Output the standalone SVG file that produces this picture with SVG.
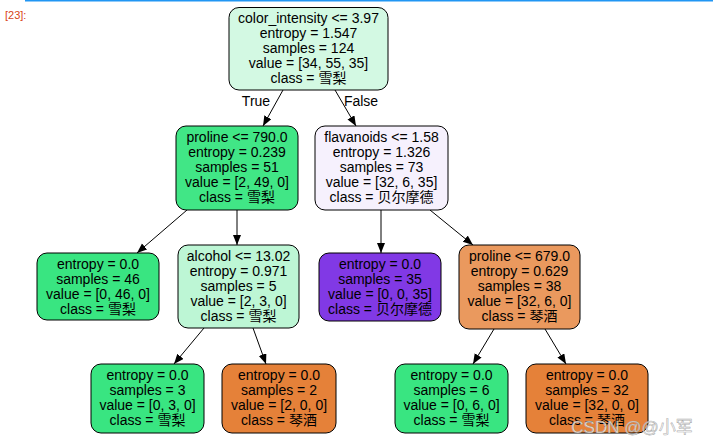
<svg xmlns="http://www.w3.org/2000/svg" width="713" height="445" viewBox="0 0 713 445">
<style>
  .n rect { stroke: #000; stroke-width: 1; }
  text { font-family: "Liberation Sans", Arial, "Noto Sans CJK SC", sans-serif; font-size: 14px; fill: #000; text-anchor: middle; }
  .e line { stroke: #000; stroke-width: 1; }
  .lbl { font-size: 14px; }
</style>
<defs>
  <marker id="ah" markerUnits="userSpaceOnUse" markerWidth="12" markerHeight="10" refX="10" refY="4" orient="auto">
    <polygon points="0,0 10,4 0,8" fill="#000"/>
  </marker>
</defs>
<rect x="0" y="0" width="713" height="445" fill="#fff"/>
<rect x="25" y="0" width="688" height="1.5" fill="#2196f3"/>
<text x="5" y="19" style="font-size:11px;text-anchor:start;fill:#d84315">[23]:</text>

<g class="e" id="edges">
  <line x1="283" y1="90" x2="263" y2="126" marker-end="url(#ah)"/>
  <line x1="335" y1="90" x2="356" y2="126" marker-end="url(#ah)"/>
  <line x1="187" y1="210" x2="137" y2="253" marker-end="url(#ah)"/>
  <line x1="237" y1="210" x2="237" y2="245" marker-end="url(#ah)"/>
  <line x1="381" y1="210" x2="381" y2="253" marker-end="url(#ah)"/>
  <line x1="430" y1="210" x2="473" y2="245" marker-end="url(#ah)"/>
  <line x1="204" y1="328" x2="174" y2="364" marker-end="url(#ah)"/>
  <line x1="253" y1="328" x2="266" y2="364" marker-end="url(#ah)"/>
  <line x1="494" y1="329" x2="473" y2="364" marker-end="url(#ah)"/>
  <line x1="545" y1="329" x2="566" y2="364" marker-end="url(#ah)"/>
  <text class="lbl" x="256" y="106">True</text>
  <text class="lbl" x="361" y="106">False</text>
</g>

<g class="n" id="node0">
  <rect x="229" y="7.5" width="159" height="82.5" rx="10" fill="#d3f9e3"/>
  <text x="308.5" y="23">color_intensity &lt;= 3.97</text>
  <text x="308.5" y="38">entropy = 1.547</text>
  <text x="308.5" y="53">samples = 124</text>
  <text x="308.5" y="68">value = [34, 55, 35]</text>
  <text x="308.5" y="83">class = 雪梨</text>
</g>

<g class="n" id="node1">
  <rect x="176" y="126" width="122" height="84" rx="10" fill="#41e686"/>
  <text x="237" y="142">proline &lt;= 790.0</text>
  <text x="237" y="157">entropy = 0.239</text>
  <text x="237" y="172">samples = 51</text>
  <text x="237" y="187">value = [2, 49, 0]</text>
  <text x="237" y="202">class = 雪梨</text>
</g>

<g class="n" id="node4">
  <rect x="315" y="126" width="133" height="84" rx="10" fill="#f6f1fd"/>
  <text x="381.5" y="142">flavanoids &lt;= 1.58</text>
  <text x="381.5" y="157">entropy = 1.326</text>
  <text x="381.5" y="172">samples = 73</text>
  <text x="381.5" y="187">value = [32, 6, 35]</text>
  <text x="381.5" y="202">class = 贝尔摩德</text>
</g>

<g class="n" id="node2">
  <rect x="37" y="253" width="122" height="67" rx="10" fill="#39e581"/>
  <text x="98" y="269">entropy = 0.0</text>
  <text x="98" y="284">samples = 46</text>
  <text x="98" y="299">value = [0, 46, 0]</text>
  <text x="98" y="314">class = 雪梨</text>
</g>

<g class="n" id="node3">
  <rect x="178" y="245" width="121" height="83" rx="10" fill="#bdf6d5"/>
  <text x="238.5" y="261">alcohol &lt;= 13.02</text>
  <text x="238.5" y="276">entropy = 0.971</text>
  <text x="238.5" y="291">samples = 5</text>
  <text x="238.5" y="306">value = [2, 3, 0]</text>
  <text x="238.5" y="321">class = 雪梨</text>
</g>

<g class="n" id="node5">
  <rect x="319" y="253" width="122" height="68" rx="10" fill="#8139e5"/>
  <text x="380" y="269">entropy = 0.0</text>
  <text x="380" y="284">samples = 35</text>
  <text x="380" y="299">value = [0, 0, 35]</text>
  <text x="380" y="314">class = 贝尔摩德</text>
</g>

<g class="n" id="node6">
  <rect x="459" y="245" width="121" height="84" rx="10" fill="#ea995e"/>
  <text x="519.5" y="261">proline &lt;= 679.0</text>
  <text x="519.5" y="276">entropy = 0.629</text>
  <text x="519.5" y="291">samples = 38</text>
  <text x="519.5" y="306">value = [32, 6, 0]</text>
  <text x="519.5" y="321">class = 琴酒</text>
</g>

<g class="n" id="node7">
  <rect x="91" y="364" width="113" height="69" rx="10" fill="#39e581"/>
  <text x="147.5" y="380">entropy = 0.0</text>
  <text x="147.5" y="395">samples = 3</text>
  <text x="147.5" y="410">value = [0, 3, 0]</text>
  <text x="147.5" y="425">class = 雪梨</text>
</g>

<g class="n" id="node8">
  <rect x="222" y="364" width="114" height="69" rx="10" fill="#e58139"/>
  <text x="279" y="380">entropy = 0.0</text>
  <text x="279" y="395">samples = 2</text>
  <text x="279" y="410">value = [2, 0, 0]</text>
  <text x="279" y="425">class = 琴酒</text>
</g>

<g class="n" id="node9">
  <rect x="395" y="364" width="113" height="69" rx="10" fill="#39e581"/>
  <text x="451.5" y="380">entropy = 0.0</text>
  <text x="451.5" y="395">samples = 6</text>
  <text x="451.5" y="410">value = [0, 6, 0]</text>
  <text x="451.5" y="425">class = 雪梨</text>
</g>

<g class="n" id="node10">
  <rect x="526" y="364" width="122" height="69" rx="10" fill="#e58139"/>
  <text x="587" y="380">entropy = 0.0</text>
  <text x="587" y="395">samples = 32</text>
  <text x="587" y="410">value = [32, 0, 0]</text>
  <text x="587" y="425">class = 琴酒</text>
</g>

<text x="632" y="433" style="font-size:17px;fill:#ffffff;fill-opacity:0.75;stroke:#999;stroke-width:0.6;stroke-opacity:0.8">CSDN @@小军</text>
</svg>
